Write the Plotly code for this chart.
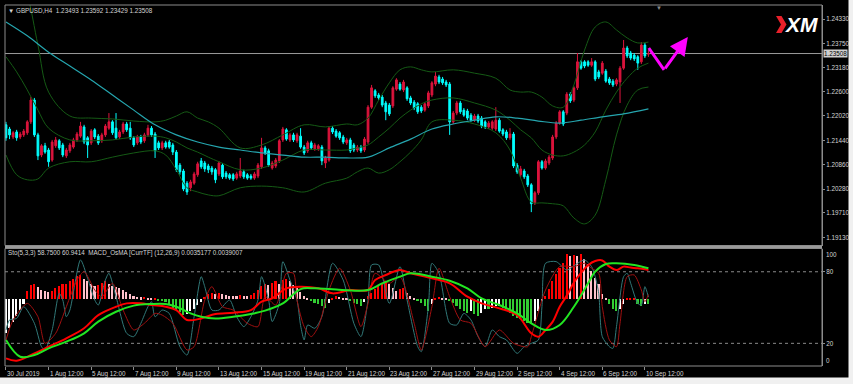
import plotly.graph_objects as go

# ---------------- candles (GBPUSD H4, bar index 0 = 30 Jul 2019 12:00) ----------------
opens = [
 1.2181, 1.2171, 1.2152, 1.2164, 1.2152, 1.2157, 1.2162, 1.2188, 1.2240, 1.2157,
 1.2109, 1.2131, 1.2121, 1.2097, 1.2131, 1.2143, 1.2133, 1.2107, 1.2119, 1.2128,
 1.2145, 1.2154, 1.2176, 1.2150, 1.2138, 1.2169, 1.2154, 1.2143, 1.2157, 1.2173,
 1.2188, 1.2173, 1.2152, 1.2164, 1.2183, 1.2173, 1.2150, 1.2138, 1.2152, 1.2143,
 1.2157, 1.2173, 1.2159, 1.2138, 1.2126, 1.2138, 1.2140, 1.2133, 1.2116, 1.2085,
 1.2071, 1.2042, 1.2031, 1.2042, 1.2062, 1.2095, 1.2090, 1.2083, 1.2078, 1.2074,
 1.2064, 1.2085, 1.2066, 1.2062, 1.2062, 1.2054, 1.2059, 1.2069, 1.2062, 1.2059,
 1.2054, 1.2059, 1.2081, 1.2126, 1.2119, 1.2078, 1.2083, 1.2095, 1.2145, 1.2169,
 1.2145, 1.2157, 1.2143, 1.2154, 1.2128, 1.2119, 1.2138, 1.2124, 1.2124, 1.2128,
 1.2090, 1.2097, 1.2173, 1.2166, 1.2162, 1.2152, 1.2138, 1.2145, 1.2133, 1.2121,
 1.2128, 1.2121, 1.2140, 1.2223, 1.2262, 1.2252, 1.2247, 1.2233, 1.2228, 1.2226,
 1.2266, 1.2278, 1.2264, 1.2269, 1.2245, 1.2235, 1.2231, 1.2223, 1.2216, 1.2226,
 1.2252, 1.2278, 1.2295, 1.2290, 1.2283, 1.2278, 1.2188, 1.2209, 1.2233, 1.2216,
 1.2214, 1.2204, 1.2192, 1.2202, 1.2197, 1.2188, 1.2176, 1.2173, 1.2171, 1.2192,
 1.2169, 1.2164, 1.2150, 1.2159, 1.2085, 1.2062, 1.2071, 1.2059, 1.2038, 1.1995,
 1.2019, 1.2093, 1.2078, 1.2090, 1.2102, 1.2152, 1.2185, 1.2212, 1.2209, 1.2254,
 1.2240, 1.2269, 1.2331, 1.2331, 1.2331, 1.2323, 1.2331, 1.2307, 1.2304, 1.2309,
 1.2290, 1.2285, 1.2278, 1.2283, 1.2316, 1.2364, 1.2352, 1.2347, 1.2343, 1.2331,
 1.2371, 1.23493]
highs = [
 1.2188, 1.2176, 1.2166, 1.2169, 1.2164, 1.2171, 1.2192, 1.2247, 1.2245, 1.2162,
 1.2135, 1.2138, 1.2126, 1.2145, 1.2152, 1.2147, 1.2138, 1.2126, 1.2138, 1.2150,
 1.2164, 1.2188, 1.2181, 1.2154, 1.2171, 1.2173, 1.2159, 1.2162, 1.2183, 1.2209,
 1.2192, 1.2209, 1.2169, 1.2188, 1.2188, 1.2188, 1.2154, 1.2157, 1.2157, 1.2162,
 1.2181, 1.2178, 1.2164, 1.2143, 1.2143, 1.2143, 1.2145, 1.2138, 1.2121, 1.2090,
 1.2076, 1.2047, 1.2050, 1.2069, 1.2093, 1.2102, 1.2095, 1.2088, 1.2083, 1.2078,
 1.2095, 1.2090, 1.2071, 1.2066, 1.2066, 1.2069, 1.2102, 1.2074, 1.2066, 1.2064,
 1.2069, 1.2090, 1.2150, 1.2131, 1.2124, 1.2095, 1.2102, 1.2147, 1.2176, 1.2173,
 1.2162, 1.2162, 1.2162, 1.2173, 1.2133, 1.2143, 1.2143, 1.2138, 1.2135, 1.2133,
 1.2107, 1.2178, 1.2178, 1.2171, 1.2166, 1.2157, 1.2150, 1.2150, 1.2138, 1.2133,
 1.2133, 1.2152, 1.2228, 1.2276, 1.2266, 1.2257, 1.2252, 1.2238, 1.2233, 1.2273,
 1.2292, 1.2283, 1.2288, 1.2273, 1.2250, 1.2240, 1.2235, 1.2228, 1.2235, 1.2262,
 1.2285, 1.2307, 1.2300, 1.2295, 1.2288, 1.2283, 1.2214, 1.2238, 1.2238, 1.2221,
 1.2219, 1.2209, 1.2207, 1.2207, 1.2202, 1.2192, 1.2190, 1.2192, 1.2223, 1.2197,
 1.2173, 1.2169, 1.2173, 1.2164, 1.2090, 1.2083, 1.2076, 1.2064, 1.2042, 1.2023,
 1.2097, 1.2097, 1.2100, 1.2109, 1.2157, 1.2190, 1.2216, 1.2216, 1.2259, 1.2259,
 1.2273, 1.2352, 1.2335, 1.2335, 1.2335, 1.2340, 1.2335, 1.2312, 1.2333, 1.2314,
 1.2295, 1.2290, 1.2292, 1.2321, 1.2383, 1.2369, 1.2357, 1.2352, 1.2347, 1.2378,
 1.2376, 1.23592]
lows = [
 1.2143, 1.2147, 1.2147, 1.2143, 1.2147, 1.2152, 1.2157, 1.2183, 1.2152, 1.2097,
 1.2104, 1.2112, 1.2081, 1.2093, 1.2126, 1.2121, 1.2104, 1.2102, 1.2114, 1.2124,
 1.2140, 1.2150, 1.2135, 1.2102, 1.2133, 1.2147, 1.2133, 1.2138, 1.2152, 1.2169,
 1.2157, 1.2145, 1.2147, 1.2159, 1.2164, 1.2145, 1.2128, 1.2133, 1.2135, 1.2138,
 1.2152, 1.2152, 1.2102, 1.2121, 1.2121, 1.2124, 1.2124, 1.2109, 1.2069, 1.2062,
 1.2023, 1.2014, 1.2023, 1.2038, 1.2057, 1.2076, 1.2069, 1.2066, 1.2062, 1.2042,
 1.2059, 1.2052, 1.2052, 1.2050, 1.2047, 1.2050, 1.2054, 1.2052, 1.2050, 1.2050,
 1.2050, 1.2054, 1.2076, 1.2109, 1.2081, 1.2074, 1.2078, 1.2090, 1.2140, 1.2143,
 1.2140, 1.2140, 1.2138, 1.2124, 1.2109, 1.2114, 1.2121, 1.2119, 1.2119, 1.2085,
 1.2078, 1.2093, 1.2159, 1.2150, 1.2145, 1.2135, 1.2133, 1.2114, 1.2116, 1.2116,
 1.2114, 1.2116, 1.2135, 1.2219, 1.2245, 1.2240, 1.2223, 1.2192, 1.2202, 1.2221,
 1.2262, 1.2262, 1.2259, 1.2238, 1.2228, 1.2216, 1.2207, 1.2209, 1.2212, 1.2221,
 1.2247, 1.2273, 1.2278, 1.2276, 1.2271, 1.2157, 1.2183, 1.2204, 1.2207, 1.2200,
 1.2192, 1.2188, 1.2188, 1.2185, 1.2173, 1.2171, 1.2171, 1.2169, 1.2166, 1.2162,
 1.2154, 1.2145, 1.2145, 1.2078, 1.2064, 1.2057, 1.2052, 1.2033, 1.1973, 1.1990,
 1.2014, 1.2074, 1.2074, 1.2085, 1.2097, 1.2147, 1.2181, 1.2178, 1.2204, 1.2233,
 1.2235, 1.2264, 1.2312, 1.2316, 1.2319, 1.2319, 1.2285, 1.2290, 1.2300, 1.2281,
 1.2276, 1.2271, 1.2273, 1.2233, 1.2312, 1.2340, 1.2335, 1.2333, 1.2312, 1.2326,
 1.2340, 1.23429]
closes = [
 1.2150, 1.2157, 1.2162, 1.2150, 1.2159, 1.2166, 1.2188, 1.2240, 1.2157, 1.2107,
 1.2131, 1.2116, 1.2093, 1.2140, 1.2145, 1.2126, 1.2109, 1.2121, 1.2133, 1.2145,
 1.2159, 1.2178, 1.2140, 1.2133, 1.2166, 1.2152, 1.2138, 1.2157, 1.2178, 1.2188,
 1.2162, 1.2150, 1.2164, 1.2183, 1.2169, 1.2150, 1.2133, 1.2152, 1.2140, 1.2157,
 1.2173, 1.2157, 1.2119, 1.2126, 1.2138, 1.2128, 1.2128, 1.2116, 1.2074, 1.2069,
 1.2028, 1.2021, 1.2045, 1.2064, 1.2088, 1.2081, 1.2076, 1.2074, 1.2069, 1.2050,
 1.2090, 1.2057, 1.2057, 1.2054, 1.2052, 1.2064, 1.2071, 1.2057, 1.2054, 1.2054,
 1.2064, 1.2085, 1.2126, 1.2114, 1.2085, 1.2090, 1.2097, 1.2143, 1.2171, 1.2147,
 1.2157, 1.2145, 1.2157, 1.2128, 1.2114, 1.2138, 1.2126, 1.2133, 1.2131, 1.2095,
 1.2102, 1.2173, 1.2164, 1.2154, 1.2150, 1.2140, 1.2145, 1.2119, 1.2121, 1.2128,
 1.2119, 1.2147, 1.2223, 1.2269, 1.2250, 1.2245, 1.2228, 1.2212, 1.2207, 1.2269,
 1.2288, 1.2266, 1.2283, 1.2243, 1.2233, 1.2221, 1.2212, 1.2214, 1.2231, 1.2257,
 1.2281, 1.2297, 1.2283, 1.2281, 1.2276, 1.2188, 1.2209, 1.2233, 1.2212, 1.2204,
 1.2197, 1.2192, 1.2202, 1.2190, 1.2178, 1.2176, 1.2185, 1.2188, 1.2192, 1.2166,
 1.2159, 1.2150, 1.2159, 1.2083, 1.2069, 1.2076, 1.2057, 1.2038, 1.1993, 1.2019,
 1.2093, 1.2078, 1.2095, 1.2104, 1.2152, 1.2185, 1.2212, 1.2183, 1.2254, 1.2238,
 1.2269, 1.2331, 1.2316, 1.2321, 1.2323, 1.2331, 1.2290, 1.2295, 1.2328, 1.2285,
 1.2281, 1.2276, 1.2288, 1.2316, 1.2364, 1.2345, 1.2340, 1.2338, 1.2328, 1.2371,
 1.2345, 1.23508]
bar_index = list(range(len(closes)))

# ---------------- Bollinger bands (20) ----------------
bb_idx = [0, 3, 6, 9, 12, 18, 24, 30, 36, 42, 45, 48, 51, 54, 57, 60, 66, 72, 78, 84, 90, 96, 99,
          102, 105, 108, 111, 114, 117, 120, 126, 132, 138, 142, 145, 148, 151, 154, 157, 160,
          163, 166, 169, 172, 175, 178, 181]
bb_upper = [1.2576, 1.2550, 1.2490, 1.2371, 1.2259, 1.2202, 1.2197, 1.2195, 1.2190, 1.2188,
            1.2192, 1.2202, 1.2212, 1.2197, 1.2188, 1.2173, 1.2126, 1.2133, 1.2157, 1.2181,
            1.2176, 1.2183, 1.2181, 1.2197, 1.2240, 1.2281, 1.2312, 1.2319, 1.2312, 1.2307,
            1.2312, 1.2304, 1.2292, 1.2264, 1.2259, 1.2259, 1.2247, 1.2226, 1.2223, 1.2276,
            1.2359, 1.2414, 1.2426, 1.2407, 1.2388, 1.2376, 1.2378]
bb_middle = [1.2343, 1.2307, 1.2264, 1.2216, 1.2173, 1.2145, 1.2143, 1.2145, 1.2152, 1.2154,
             1.2150, 1.2140, 1.2126, 1.2116, 1.2104, 1.2093, 1.2074, 1.2078, 1.2097, 1.2121,
             1.2121, 1.2121, 1.2126, 1.2133, 1.2152, 1.2173, 1.2197, 1.2216, 1.2231, 1.2240,
             1.2245, 1.2233, 1.2216, 1.2192, 1.2169, 1.2150, 1.2121, 1.2109, 1.2107, 1.2116,
             1.2133, 1.2164, 1.2216, 1.2259, 1.2292, 1.2316, 1.2328]
bb_lower = [1.2109, 1.2062, 1.2050, 1.2052, 1.2078, 1.2093, 1.2093, 1.2104, 1.2114, 1.2119,
            1.2109, 1.2074, 1.2031, 1.2021, 1.2014, 1.2012, 1.2031, 1.2035, 1.2031, 1.2021,
            1.2042, 1.2054, 1.2069, 1.2078, 1.2066, 1.2074, 1.2093, 1.2116, 1.2145, 1.2188,
            1.2192, 1.2183, 1.2162, 1.2121, 1.2054, 1.1997, 1.1995, 1.1993, 1.1988, 1.1959,
            1.1945, 1.1966, 1.2050, 1.2157, 1.2228, 1.2264, 1.2271]

# ---------------- moving average ----------------
ma_idx = [0, 6, 12, 18, 24, 30, 36, 42, 48, 54, 60, 66, 72, 78, 84, 90, 96, 102, 105, 108, 114,
          120, 126, 132, 138, 144, 150, 156, 162, 168, 174, 181]
ma_vals = [1.2426, 1.2393, 1.2354, 1.2321, 1.2288, 1.2252, 1.2216, 1.2181, 1.2157, 1.2140,
           1.2128, 1.2121, 1.2114, 1.2109, 1.2104, 1.2104, 1.2102, 1.2104, 1.2114, 1.2126,
           1.2147, 1.2171, 1.2183, 1.2192, 1.2200, 1.2197, 1.2190, 1.2185, 1.2192, 1.2200,
           1.2207, 1.2219]

# ---------------- oscillator window ----------------
stoch_k_idx = [0, 1, 3, 5, 8, 10, 11, 13, 15, 16, 17, 18, 21, 23, 25, 26, 28, 29, 31, 34, 36, 38,
               40, 41, 42, 44, 46, 49, 51, 53, 55, 56, 58, 60, 63, 65, 67, 69, 71, 72, 74, 75, 77,
               78, 80, 82, 83, 84, 85, 87, 89, 92, 95, 98, 100, 102, 103, 105, 108, 111, 113, 116,
               117, 119, 120, 122, 125, 127, 129, 131, 133, 135, 137, 139, 141, 144, 146, 148,
               150, 151, 152, 155, 158, 161, 163, 165, 166, 167, 168, 170, 171, 172, 174, 175,
               176, 178, 179, 180, 181]
stoch_k = [31.2, 39.6, 40.9, 50.7, 36.8, 17.2, 14.4, 31.2, 61.9, 56.3, 42.3, 47.9, 89.9, 74.5,
           56.3, 52.1, 73.1, 78.7, 59.1, 28.4, 25.6, 36.8, 50.7, 54.9, 42.3, 47.9, 45.1, 17.2,
           10.2, 42.3, 75.9, 67.5, 47.9, 47.9, 56.3, 42.3, 34.0, 42.3, 56.3, 75.9, 56.3, 38.2,
           53.5, 88.5, 73.1, 56.3, 35.0, 22.8, 35.4, 32.6, 42.3, 87.1, 73.1, 36.8, 25.6, 56.3,
           85.7, 85.7, 53.5, 84.3, 56.3, 17.2, 13.0, 50.7, 87.1, 78.7, 36.8, 35.4, 45.1, 39.6,
           25.6, 17.2, 31.2, 25.6, 22.8, 11.6, 17.2, 20.0, 22.8, 50.7, 87.1, 88.5, 81.5, 87.1,
           89.9, 84.3, 75.9, 61.9, 25.6, 17.2, 15.8, 34.0, 75.9, 78.7, 70.3, 53.5, 52.1, 67.5,
           58.75]
stoch_d_idx = [0, 2, 6, 9, 11, 14, 17, 20, 22, 25, 27, 30, 33, 36, 39, 42, 44, 47, 51, 53, 56, 58,
               61, 64, 68, 71, 73, 76, 79, 81, 82, 84, 86, 88, 91, 94, 97, 100, 102, 104, 108, 111,
               115, 117, 120, 122, 125, 128, 131, 135, 139, 143, 147, 148, 152, 156, 160, 163,
               165, 167, 168, 170, 172, 173, 175, 177, 179, 180, 181]
stoch_d = [22.8, 39.6, 53.5, 42.3, 20.0, 28.4, 50.7, 73.1, 80.1, 64.7, 59.1, 70.3, 47.9, 31.2,
           36.8, 45.1, 43.7, 36.8, 14.4, 17.2, 56.3, 67.5, 50.7, 47.9, 36.8, 34.0, 59.1, 52.1,
           78.7, 78.7, 56.0, 34.0, 25.6, 34.0, 64.7, 82.9, 64.7, 34.0, 53.5, 78.7, 70.3, 75.9,
           36.8, 14.4, 50.7, 82.9, 59.1, 39.6, 36.8, 17.2, 31.2, 20.0, 17.2, 25.6, 64.7, 84.3,
           84.3, 87.1, 82.9, 78.7, 50.7, 22.8, 17.2, 36.8, 75.9, 77.3, 64.7, 54.9, 60.94]
macd_main_idx = [0, 3, 8, 12, 17, 22, 26, 31, 34, 38, 41, 45, 48, 51, 55, 59, 64, 69, 72, 75, 79,
                 83, 88, 92, 97, 102, 104, 107, 111, 114, 120, 125, 130, 134, 139, 144, 148, 150,
                 152, 154, 156, 158, 160, 162, 164, 166, 168, 170, 172, 174, 176, 178, 181]
macd_main = [7.4, 5.4, 11.6, 17.2, 24.2, 32.6, 43.7, 50.7, 53.5, 53.5, 52.1, 50.7, 47.9, 39.6,
             40.9, 44.6, 45.7, 47.9, 54.9, 57.7, 66.1, 67.5, 66.1, 61.9, 64.7, 64.7, 73.1, 77.3,
             81.5, 78.7, 74.5, 70.3, 59.1, 53.5, 49.3, 43.7, 28.4, 25.6, 31.2, 38.0, 50.7, 60.0,
             71.0, 79.0, 85.5, 89.0, 89.5, 84.3, 81.5, 84.3, 83.5, 82.9, 81.5]
macd_signal_idx = [0, 4, 8, 12, 17, 22, 26, 31, 36, 41, 45, 48, 52, 55, 59, 64, 69, 73, 78, 83,
                   87, 92, 102, 106, 111, 114, 120, 125, 130, 134, 139, 144, 148, 152, 156, 160,
                   164, 166, 169, 172, 177, 181]
macd_signal = [22.8, 8.8, 10.2, 15.8, 21.4, 28.4, 38.2, 46.5, 51.6, 53.0, 53.0, 50.7, 45.1, 42.3,
               40.9, 42.3, 44.6, 47.4, 53.5, 65.5, 66.1, 65.3, 64.7, 70.3, 75.9, 78.7, 75.9, 72.5,
               66.1, 57.7, 52.1, 45.1, 36.8, 31.2, 35.4, 50.7, 70.3, 80.1, 86.5, 87.1, 85.7, 82.9]
osma = [
 -28, -24, -19, -14, -9, -4,
 7, 12, 13, 10, 8, 7, 6, 7, 9, 11,
 12.6, 13, 15, 17, 19.5, 20, 17, 15, 13, 11,
 12, 14, 15, 13, 11, 10, 9, 8, 6, 4,
 3, 2, 1.5, 1.8, 1, 0.8, 1.0, -1, -1.5, -2,
 -4, -7, -9, -11, -13, -12, -10, -8, -5, -2,
 2, 4, 5.6, 4.5, 5, 4, 3.5, 3, 2.8, 2.6,
 3.5, 3, 2.8, 3.5, 5, 8, 11, 13, 12, 14,
 15, 13, 16, 17, 15, 12, 9, 6, 3, 1.4,
 -1.4, -2.8, -4.2, -5.6, -7, -3, 1.4, 2.8, 2.0, 1.4,
 1.0, -1.4, -2.8, -4.2, -5.6, -2, 2.8, 5.6, 8.4, 11.2,
 13.9, 15.3, 12.6, 9.7, 7, 8.5, 9.7, 5.6, 2.8, 1.4,
 -1.4, -2.8, -5.6, -9.8, -4, 1.4, 2, 1.4, 1, -1.4,
 -2.8, -5.6, -8.4, -9.8, -11.2, -9.8, -12.6, -14, -11.2, -8.4,
 -8.4, -7, -6, -5.6, -7, -8.4, -11.2, -14, -15.4, -16.8,
 -18.2, -19.6, -21, -18, -10, -1.4, 2.8, 8.4, 15, 21,
 26.5, 30.7, 37.7, 36.3, 37, 36.3, 37.7, 33.5, 29.3, 23.7,
 18.1, 12.6, 4.2, 1.4, -4.2, -8.4, -9.8, -8.4, -4.2, 0.5,
 0.5, 0.5, -4.2, -5.6, -4.2, -4.2]
stoch_levels = [80, 20]

# ---------------- axis labels ----------------
date_idx = [0, 12, 24, 36, 48, 60, 72, 84, 96, 108, 120, 132, 144, 156, 168, 180]
date_labels = ["30 Jul 2019", "1 Aug 12:00", "5 Aug 12:00", "7 Aug 12:00", "9 Aug 12:00",
               "13 Aug 12:00", "15 Aug 12:00", "19 Aug 12:00", "21 Aug 12:00", "23 Aug 12:00",
               "27 Aug 12:00", "29 Aug 12:00", "2 Sep 12:00", "4 Sep 12:00", "6 Sep 12:00",
               "10 Sep 12:00"]
price_ticks = [1.24330, 1.23750, 1.23180, 1.22600, 1.22020, 1.21440, 1.20860, 1.20280,
               1.19710, 1.19130]
current_price = 1.23508
title_text = "GBPUSD,H4  1.23493 1.23592 1.23429 1.23508"
sub_title_text = "Sto(5,3,3) 58.7500 60.9414  MACD_OsMA [CurrTF] (12,26,9) 0.0035177 0.0039007"

# forecast arrow drawn on the chart (bar index, price)
arrow_x = [181.1, 185.4, 192.1]
arrow_y = [1.2364, 1.2312, 1.2390]

# ---------------- geometry & style ----------------
W, H = 853, 384
ML, MR, MT, MB = 5, 31, 5, 18
PW, PH = W - ML - MR, H - MT - MB


def fx(px):
    return (px - ML) / PW


def fy(py):
    return (H - MB - py) / PH


MAIN_BOT = 245.5
SUB_TOP = 248.5
X_RANGE = [-0.28, 229.9]
PRICE_RANGE = [1.18935, 1.24664]
OSC_RANGE = [1.0, 99.5]
OSMA_ZERO = 57.4

BG = "#000000"
FRAME = "#8c8c8c"
TXT = "#d4d4d4"
BULL = "#dc143c"
BEAR = "#00ffff"
BAND = "#155a15"
MA_C = "#25a5ae"
FONT = "Liberation Sans, DejaVu Sans, sans-serif"

OS_UP, OS_DN, OS_NEG_DN, OS_NEG_UP = "#ff0000", "#ffc0cb", "#32cd32", "#ffffff"
osma_colors = []
prev = None
for v in osma:
    if v >= 0:
        c = OS_UP if (prev is None or v >= prev) else OS_DN
    else:
        c = OS_NEG_UP if (prev is None or v > prev) else OS_NEG_DN
    osma_colors.append(c)
    prev = v

fig = go.Figure()

# main window
fig.add_trace(go.Candlestick(
    x=bar_index, open=opens, high=highs, low=lows, close=closes,
    increasing=dict(line=dict(color=BULL, width=1), fillcolor=BULL),
    decreasing=dict(line=dict(color=BEAR, width=1), fillcolor=BEAR),
    whiskerwidth=0, xaxis="x", yaxis="y", hoverinfo="skip"))
for ys in (bb_upper, bb_middle, bb_lower):
    fig.add_trace(go.Scatter(x=bb_idx, y=ys, mode="lines", xaxis="x", yaxis="y",
                             line=dict(color=BAND, width=1, shape="spline", smoothing=1.0),
                             hoverinfo="skip"))
fig.add_trace(go.Scatter(x=ma_idx, y=ma_vals, mode="lines", xaxis="x", yaxis="y",
                         line=dict(color=MA_C, width=1.2, shape="spline", smoothing=1.0),
                         hoverinfo="skip"))
fig.add_trace(go.Scatter(x=arrow_x[:2], y=arrow_y[:2], mode="lines", xaxis="x", yaxis="y",
                         line=dict(color="#ff00ff", width=3), hoverinfo="skip"))

# oscillator window
fig.add_trace(go.Bar(x=bar_index, y=osma, base=OSMA_ZERO, width=0.45, xaxis="x2", yaxis="y2",
                     marker=dict(color=osma_colors, line=dict(width=0)), hoverinfo="skip"))
fig.add_trace(go.Scatter(x=stoch_k_idx, y=stoch_k, mode="lines", xaxis="x2", yaxis="y2",
                         line=dict(color="#317878", width=1, shape="spline", smoothing=0.7),
                         hoverinfo="skip"))
fig.add_trace(go.Scatter(x=stoch_d_idx, y=stoch_d, mode="lines", xaxis="x2", yaxis="y2",
                         line=dict(color="#a01010", width=1, shape="spline", smoothing=0.7),
                         hoverinfo="skip"))
fig.add_trace(go.Scatter(x=macd_main_idx, y=macd_main, mode="lines", xaxis="x2", yaxis="y2",
                         line=dict(color="#ff0000", width=2, shape="spline", smoothing=1.0),
                         hoverinfo="skip"))
fig.add_trace(go.Scatter(x=macd_signal_idx, y=macd_signal, mode="lines", xaxis="x2", yaxis="y2",
                         line=dict(color="#22e622", width=2, shape="spline", smoothing=1.0),
                         hoverinfo="skip"))

shapes = [
    # pane separator
    dict(type="rect", xref="paper", yref="paper", x0=0, x1=1, y0=fy(SUB_TOP), y1=fy(MAIN_BOT),
         fillcolor="#9a9a9a", line=dict(width=0), layer="above"),
    dict(type="rect", xref="paper", yref="paper", x0=0, x1=1, y0=fy(MAIN_BOT), y1=1,
         line=dict(color=FRAME, width=1), layer="above"),
    dict(type="rect", xref="paper", yref="paper", x0=0, x1=1, y0=0, y1=fy(SUB_TOP),
         line=dict(color=FRAME, width=1), layer="above"),
    # current bid line
    dict(type="line", xref="paper", yref="y", x0=0, x1=1, y0=current_price, y1=current_price,
         line=dict(color="#9a9a9a", width=1), layer="below"),
    # window edges
    dict(type="rect", xref="paper", yref="paper", x0=fx(848.5), x1=fx(880), y0=fy(400),
         y1=fy(-20), fillcolor="#f0f0f0", line=dict(width=0)),
    dict(type="rect", xref="paper", yref="paper", x0=fx(-20), x1=fx(880), y0=fy(400),
         y1=fy(377.5), fillcolor="#f0f0f0", line=dict(width=0)),
    # XM logo red mark
    dict(type="path", xref="paper", yref="paper",
         path=(f"M {fx(776)},{fy(16)} L {fx(781.5)},{fy(16)} L {fx(786.5)},{fy(24.5)} "
               f"L {fx(781.5)},{fy(33)} L {fx(776)},{fy(33)} L {fx(781)},{fy(24.5)} Z"),
         fillcolor="#e8202a", line=dict(width=0)),
]
for lv in stoch_levels:
    shapes.append(dict(type="line", xref="paper", yref="y2", x0=0, x1=1, y0=lv, y1=lv,
                       line=dict(color="#8a8a8a", width=1, dash="dot"), layer="below"))

small = dict(family=FONT, size=6.3, color=TXT)
annotations = [
    dict(xref="paper", yref="paper", x=fx(6), y=fy(11), xanchor="left", yanchor="middle",
         text="▼ " + title_text, showarrow=False, font=small),
    dict(xref="paper", yref="paper", x=fx(6), y=fy(253), xanchor="left", yanchor="middle",
         text=sub_title_text, showarrow=False, font=small),
    dict(xref="paper", yref="paper", x=fx(801), y=fy(24.5), xanchor="center", yanchor="middle",
         text="<b><i>XM</i></b>", showarrow=False,
         font=dict(family=FONT, size=21, color="#ffffff")),
    dict(xref="paper", yref="paper", x=fx(659), y=fy(7.5), xanchor="center", yanchor="middle",
         text="▼", showarrow=False, font=dict(family=FONT, size=6, color="#8a8a8a")),
    dict(xref="paper", yref="y", x=1, y=current_price, xanchor="left", yanchor="middle",
         text=f"{current_price:.5f}", showarrow=False, xshift=1,
         font=dict(family=FONT, size=6.3, color="#000000"), bgcolor="#d0d0d0",
         borderpad=0),
    dict(xref="paper", yref="y2", x=1, y=OSC_RANGE[1], xanchor="left", yanchor="top",
         text="100", showarrow=False, xshift=2, font=small),
    dict(xref="paper", yref="y2", x=1, y=OSC_RANGE[0], xanchor="left", yanchor="bottom",
         text="0", showarrow=False, xshift=2, font=small),
    dict(xref="x", yref="y", x=arrow_x[2], y=arrow_y[2], axref="x", ayref="y",
         ax=arrow_x[1], ay=arrow_y[1], showarrow=True, arrowhead=2, arrowsize=1.2,
         arrowwidth=3, arrowcolor="#ff00ff", text=""),
]
for bi, lab in zip(date_idx, date_labels):
    annotations.append(dict(xref="x", yref="paper", x=bi, y=fy(367.5), xanchor="left",
                            yanchor="top", text=lab, showarrow=False, xshift=-1, font=small))

fig.update_layout(
    template="none",
    width=W, height=H,
    margin=dict(l=ML, r=MR, t=MT, b=MB, pad=0),
    paper_bgcolor=BG, plot_bgcolor=BG,
    showlegend=False,
    font=dict(family=FONT, size=7, color=TXT),
    xaxis=dict(domain=[0, 1], range=X_RANGE, anchor="y", showticklabels=False, ticks="",
               showgrid=False, zeroline=False, showline=False,
               rangeslider=dict(visible=False), automargin=False),
    xaxis2=dict(domain=[0, 1], range=X_RANGE, anchor="y2", matches="x",
                tickvals=date_idx, ticks="outside", ticklen=3, tickcolor=FRAME,
                showticklabels=False, showgrid=False, zeroline=False, showline=False,
                automargin=False),
    yaxis=dict(domain=[fy(MAIN_BOT), 1], range=PRICE_RANGE, anchor="x", side="right",
               tickvals=price_ticks, ticktext=[f"{v:.5f}" for v in price_ticks],
               ticks="outside", ticklen=2, tickcolor=FRAME, tickfont=small,
               showgrid=False, zeroline=False, showline=True, linecolor=FRAME, linewidth=1,
               automargin=False),
    yaxis2=dict(domain=[0, fy(SUB_TOP)], range=OSC_RANGE, anchor="x2", side="right",
                tickvals=stoch_levels, ticktext=[str(v) for v in stoch_levels],
                ticks="outside", ticklen=2, tickcolor=FRAME, tickfont=small,
                showgrid=False, zeroline=False, showline=True, linecolor=FRAME, linewidth=1,
                automargin=False),
    shapes=shapes,
    annotations=annotations,
    bargap=0,
)

fig.write_html("out.html")
